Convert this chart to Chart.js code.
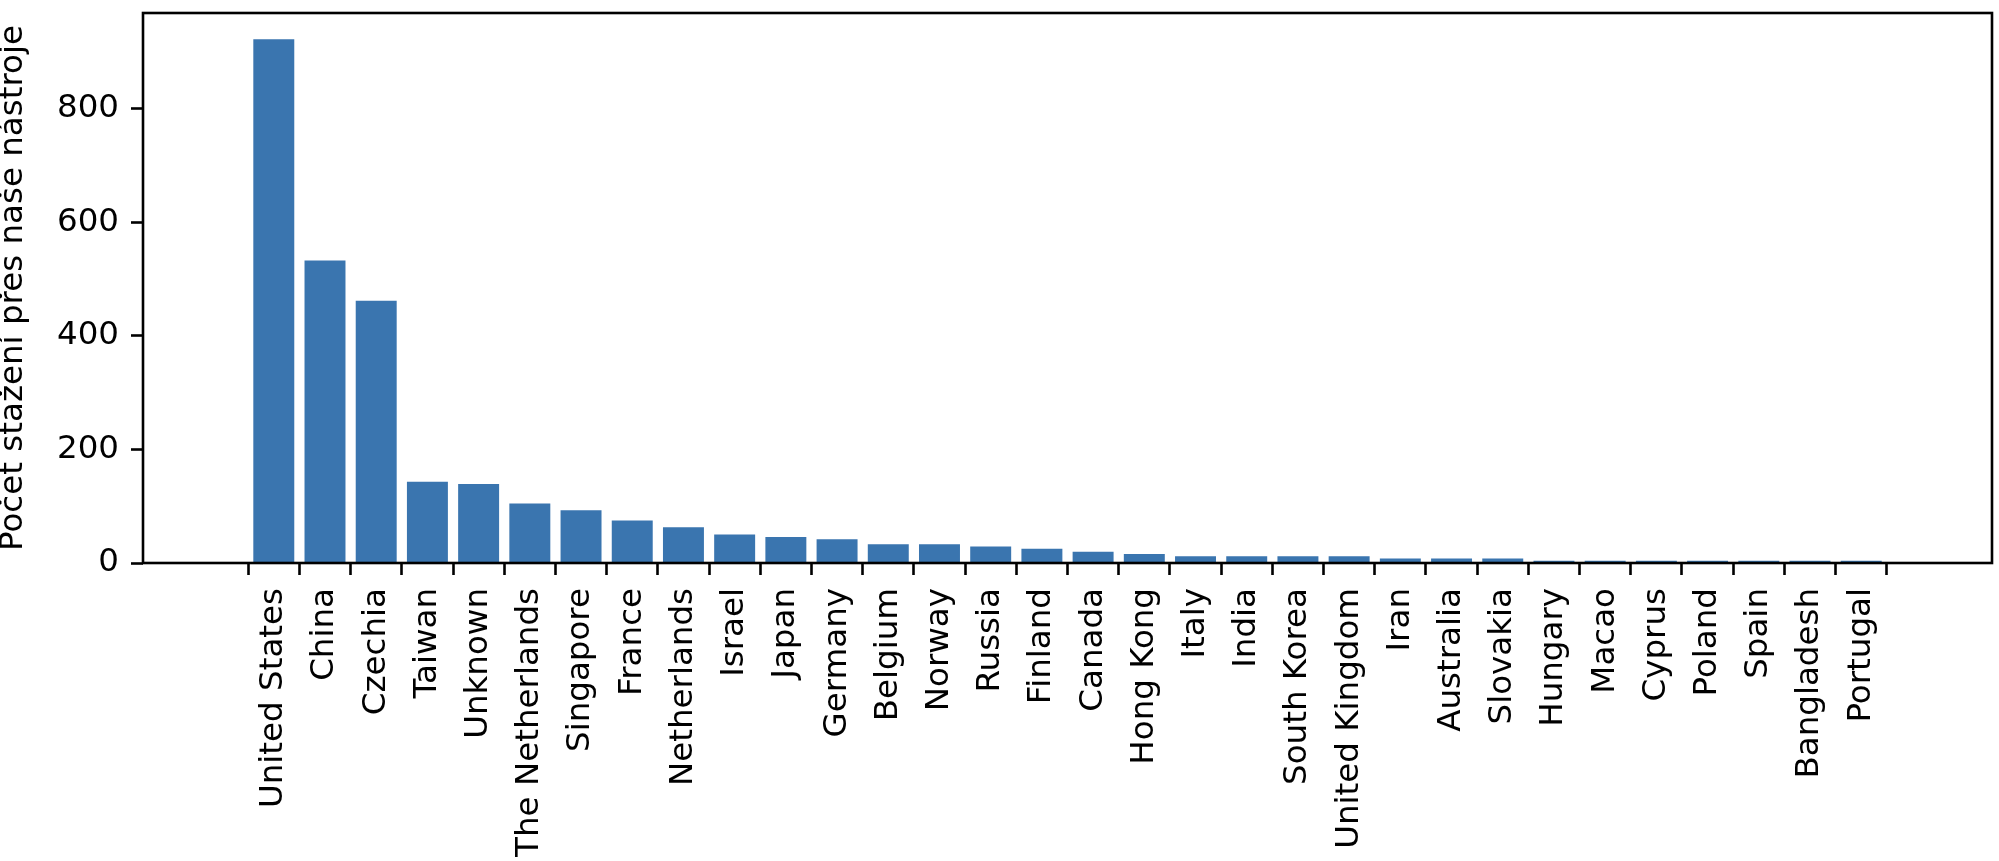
<!DOCTYPE html>
<html>
<head>
<meta charset="utf-8">
<script src="https://cdn.jsdelivr.net/npm/chart.js@4.4.1/dist/chart.umd.min.js"></script>
<style>
  html, body { margin: 0; padding: 0; background: #fff; }
  #wrap { width: 1999px; height: 861px; }
</style>
</head>
<body>
<div id="wrap"><canvas id="downloadsChart" width="1999" height="861"></canvas></div>
<script>
// countries, sorted by download count
const countries = [
    'United States', 'China', 'Czechia', 'Taiwan', 'Unknown', 'The Netherlands',
    'Singapore', 'France', 'Netherlands', 'Israel', 'Japan', 'Germany',
    'Belgium', 'Norway', 'Russia', 'Finland', 'Canada', 'Hong Kong',
    'Italy', 'India', 'South Korea', 'United Kingdom', 'Iran', 'Australia',
    'Slovakia', 'Hungary', 'Macao', 'Cyprus', 'Poland', 'Spain',
    'Bangladesh', 'Portugal'
];
const downloads = [
    923, 533, 462, 143, 139, 105,
    93, 75, 63, 50, 46, 42,
    33, 33, 29, 25, 20, 16,
    12, 12, 12, 12, 8, 8,
    8, 4, 4, 4, 4, 4,
    4, 4
];
const yTicks = [0, 200, 400, 600, 800];
const yTitle = 'Počet stažení přes naše nástroje';

const FONT = 'DejaVu Sans';
const FONT_SIZE = 32.5;
const LINE_W = 2.6;
const TICK_LEN = 12;

document.addEventListener('DOMContentLoaded', function() {
    const ctx = document.getElementById('downloadsChart').getContext('2d');

    // matplotlib-style margins around the bars
    const xPad = 0.4 + 0.05 * (countries.length - 1 + 0.8);
    const yMax = Math.max(...downloads) * 1.05;

    // draw the full box around the plot area
    const frame = {
        id: 'frame',
        afterDraw(chart) {
            const a = chart.chartArea;
            const c = chart.ctx;
            c.save();
            c.strokeStyle = '#000';
            c.lineWidth = LINE_W;
            c.strokeRect(a.left, a.top, a.right - a.left, a.bottom - a.top);
            c.restore();
        }
    };

    const tickGrid = {
        drawOnChartArea: false,
        drawTicks: true,
        tickLength: TICK_LEN,
        tickWidth: LINE_W,
        tickColor: '#000'
    };

    new Chart(ctx, {
        type: 'bar',
        data: {
            datasets: [{
                data: countries.map((c, i) => ({ x: i, y: downloads[i] })),
                backgroundColor: '#3a75af',
                borderWidth: 0,
                barPercentage: 0.8,
                categoryPercentage: 1.0
            }]
        },
        options: {
            responsive: false,
            animation: false,
            devicePixelRatio: 1,
            layout: { padding: { top: 13, right: 7, left: 0, bottom: 0 } },
            plugins: {
                legend: { display: false },
                tooltip: { enabled: false }
            },
            scales: {
                x: {
                    type: 'linear',
                    min: -xPad,
                    max: countries.length - 1 + xPad,
                    afterBuildTicks: scale => {
                        scale.ticks = countries.map((c, i) => ({ value: i }));
                    },
                    afterFit: scale => {
                        scale.height = 298;
                        scale.paddingLeft = 0;
                        scale.paddingRight = 0;
                    },
                    border: { display: false },
                    grid: tickGrid,
                    ticks: {
                        autoSkip: false,
                        minRotation: 90,
                        maxRotation: 90,
                        padding: 13,
                        color: '#000',
                        font: { family: FONT, size: FONT_SIZE },
                        callback: value => countries[value]
                    }
                },
                y: {
                    min: 0,
                    max: yMax,
                    afterBuildTicks: scale => {
                        scale.ticks = yTicks.map(v => ({ value: v }));
                    },
                    afterFit: scale => {
                        scale.width = 143;
                        scale.paddingTop = 0;
                        scale.paddingBottom = 0;
                    },
                    border: { display: false },
                    grid: tickGrid,
                    ticks: {
                        padding: 12,
                        color: '#000',
                        font: { family: FONT, size: FONT_SIZE }
                    },
                    title: {
                        display: true,
                        text: yTitle,
                        color: '#000',
                        font: { family: FONT, size: FONT_SIZE, lineHeight: 0.85 },
                        padding: { top: 0, bottom: 0 }
                    }
                }
            }
        },
        plugins: [frame]
    });
});
</script>
</body>
</html>
